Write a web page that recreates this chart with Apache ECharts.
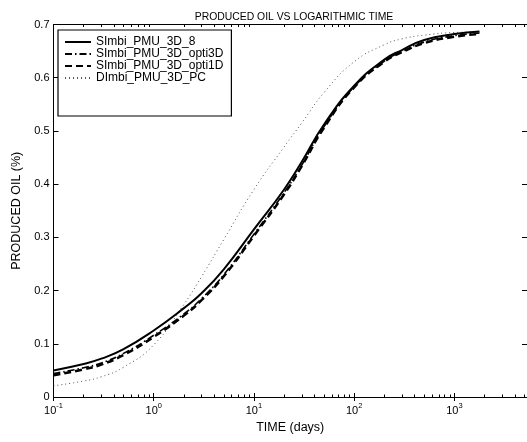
<!DOCTYPE html>
<html>
<head>
<meta charset="utf-8">
<script src="https://cdn.jsdelivr.net/npm/echarts@6/dist/echarts.min.js"></script>
<style>html,body{margin:0;padding:0;background:#fff;}#c{width:527px;height:442px;}</style>
</head>
<body>
<div id="c"></div>
<script>
var times = [0.1, 0.2, 0.3, 0.5, 1, 2, 3, 5, 10, 20, 30, 50, 100, 200, 300, 500, 1000, 1780];
var sImbi8 =      [0.050, 0.062, 0.072, 0.090, 0.125, 0.167, 0.195, 0.240, 0.315, 0.390, 0.442, 0.512, 0.585, 0.634, 0.652, 0.671, 0.682, 0.687];
var sImbiOpti3D = [0.044, 0.055, 0.064, 0.082, 0.116, 0.156, 0.185, 0.230, 0.306, 0.384, 0.436, 0.508, 0.583, 0.631, 0.649, 0.667, 0.679, 0.684];
var sImbiOpti1D = [0.041, 0.052, 0.061, 0.079, 0.113, 0.153, 0.182, 0.227, 0.303, 0.381, 0.434, 0.506, 0.582, 0.630, 0.648, 0.665, 0.677, 0.682];
var dImbiPC =     [0.021, 0.030, 0.038, 0.056, 0.098, 0.174, 0.226, 0.296, 0.390, 0.470, 0.515, 0.572, 0.630, 0.662, 0.673, 0.680, 0.685, 0.686];
var seriesNames = ['SImbi_PMU_3D_8', 'SImbi_PMU_3D_opti3D', 'SImbi_PMU_3D_opti1D', 'DImbi_PMU_3D_PC'];
var majorTicks = [0.1, 1, 10, 100, 1000];
var minorTicks = [0.2,0.3,0.4,0.5,0.6,0.7,0.8,0.9, 2,3,4,5,6,7,8,9, 20,30,40,50,60,70,80,90, 200,300,400,500,600,700,800,900, 2000,3000,4000,5000];

function pairs(ys){ return times.map(function(t,i){ return [t, ys[i]]; }); }

var FONT = 'Liberation Sans, Arial, Helvetica, sans-serif';
var chart = echarts.init(document.getElementById('c'), null, {renderer:'canvas'});

function xAxisBase(pos, showLabel, ticks, len){
  return {
    type:'log', logBase:10, min:0.1, max:5300, position:pos,
    axisLine:{show:true, lineStyle:{color:'#000', width:1}},
    axisTick:{show:true, inside:true, length:len, customValues:ticks, lineStyle:{color:'#000', width:1}},
    axisLabel:{show:showLabel, customValues:majorTicks, margin:5, color:'#000', fontFamily:FONT,
      formatter:function(v){ var e=Math.round(Math.log(v)/Math.LN10); return '{b|10}{s|'+e+'}'; },
      rich:{ b:{fontSize:11, fontFamily:FONT, color:'#000', verticalAlign:'bottom', lineHeight:14},
             s:{fontSize:7.5, fontFamily:FONT, color:'#000', verticalAlign:'top', lineHeight:14} } },
    splitLine:{show:false}, minorTick:{show:false}, minorSplitLine:{show:false}
  };
}

var xA0 = xAxisBase('bottom', true, majorTicks, 4);
xA0.name = 'TIME (days)'; xA0.nameLocation = 'middle'; xA0.nameGap = 24;
xA0.nameTextStyle = {fontSize:12.5, fontFamily:FONT, color:'#000'};

var option = {
  animation:false,
  backgroundColor:'#fff',
  color:['#000','#000','#000','#555'],
  title:{ text:'PRODUCED OIL VS LOGARITHMIC TIME', left:289, textAlign:'center', top:7,
    textStyle:{fontSize:10.4, fontWeight:'normal', fontFamily:FONT, color:'#000'} },
  grid:{ left:53.5, right:-1.3, top:24.5, bottom:45, containLabel:false },
  legend:{
    data:seriesNames, orient:'vertical', left:58, top:30,
    padding:[6, 8, 32, 6], itemGap:0, itemWidth:26, itemHeight:11,
    backgroundColor:'#fff', borderColor:'#000', borderWidth:1.2,
    itemStyle:{opacity:0, borderWidth:0},
    textStyle:{fontSize:12, fontFamily:FONT, color:'#000', lineHeight:11.7},
    selectedMode:false
  },
  xAxis:[
    xA0,
    xAxisBase('top', false, majorTicks, 4),
    xAxisBase('bottom', false, minorTicks, 2.5),
    xAxisBase('top', false, minorTicks, 2.5)
  ],
  yAxis:[
    { type:'value', min:0, max:0.7, interval:0.1, position:'left',
      name:'PRODUCED OIL (%)', nameLocation:'middle', nameGap:29,
      nameTextStyle:{fontSize:12.5, fontFamily:FONT, color:'#000'},
      axisLine:{show:true, lineStyle:{color:'#000', width:1}},
      axisTick:{show:true, inside:true, length:5, lineStyle:{color:'#000'}},
      axisLabel:{color:'#000', fontSize:11, fontFamily:FONT, margin:4,
        formatter:function(v){ return v===0 ? '0' : v.toFixed(1); } },
      splitLine:{show:false} },
    { type:'value', min:0, max:0.7, interval:0.1, position:'right',
      axisLine:{show:true, lineStyle:{color:'#000', width:1}},
      axisTick:{show:true, inside:true, length:5, lineStyle:{color:'#000'}},
      axisLabel:{show:false}, splitLine:{show:false} }
  ],
  series:[
    { name:seriesNames[0], type:'line', data:pairs(sImbi8), smooth:0.5, symbol:'none', z:4,
      itemStyle:{color:'#000'}, lineStyle:{color:'#000', width:2, type:'solid'} },
    { name:seriesNames[1], type:'line', data:pairs(sImbiOpti3D), smooth:0.5, symbol:'none', z:3,
      itemStyle:{color:'#000'}, lineStyle:{color:'#000', width:1.6, type:[7,3,1.5,3]} },
    { name:seriesNames[2], type:'line', data:pairs(sImbiOpti1D), smooth:0.5, symbol:'none', z:3,
      itemStyle:{color:'#000'}, lineStyle:{color:'#000', width:2.5, type:[7,4]} },
    { name:seriesNames[3], type:'line', data:pairs(dImbiPC), smooth:0.5, symbol:'none', z:2,
      itemStyle:{color:'#555'}, lineStyle:{color:'#555', width:1, type:[1,3]} }
  ]
};
chart.setOption(option);
</script>
</body>
</html>
